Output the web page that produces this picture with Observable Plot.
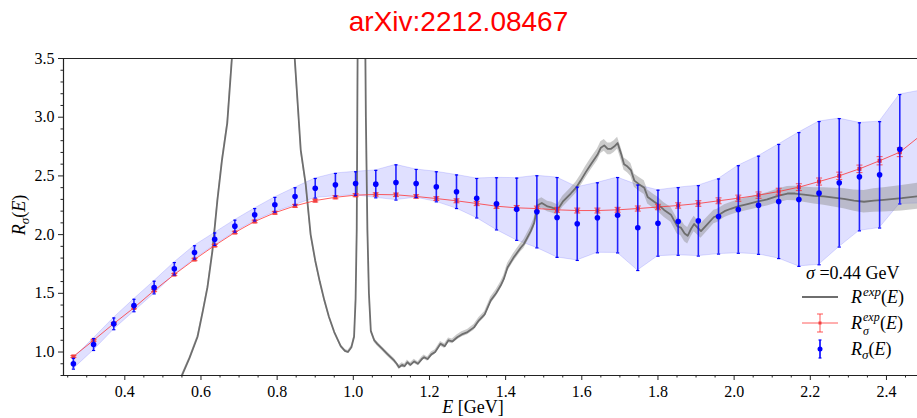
<!DOCTYPE html>
<html>
<head>
<meta charset="utf-8">
<script src="https://cdn.jsdelivr.net/npm/d3@7"></script>
<script src="https://cdn.jsdelivr.net/npm/@observablehq/plot@0.6"></script>
<style>
  html, body { margin: 0; padding: 0; background: #fff; }
  body { width: 917px; height: 418px; overflow: hidden; }
  #title {
    height: 44px; line-height: 44px; text-align: center;
    font-family: "Liberation Sans", Arial, sans-serif; font-size: 28px; color: #ff0000;
  }
  #chart svg { display: block; }
</style>
</head>
<body>
<div id="title">arXiv:2212.08467</div>
<div id="chart"></div>
<script>
// Energies of the smeared points (GeV)
const energies = [0.265,0.318,0.371,0.424,0.477,0.530,0.583,0.636,0.689,0.741,0.794,0.847,0.900,0.953,1.006,1.059,1.112,1.165,1.218,1.271,1.324,1.376,1.429,1.482,1.535,1.588,1.641,1.694,1.747,1.800,1.853,1.906,1.959,2.011,2.064,2.117,2.170,2.223,2.276,2.329,2.382,2.435,2.488];

// R_sigma(E) from the lattice (blue) with its uncertainty
const rSigma    = [0.900,1.064,1.240,1.396,1.549,1.709,1.848,1.961,2.072,2.169,2.254,2.325,2.395,2.424,2.435,2.430,2.444,2.435,2.407,2.365,2.310,2.262,2.216,2.194,2.146,2.092,2.143,2.165,2.058,2.097,2.112,2.117,2.154,2.214,2.250,2.282,2.299,2.353,2.441,2.492,2.509,2.727,2.745];
const rSigmaErr = [0.046,0.051,0.050,0.053,0.054,0.053,0.057,0.053,0.051,0.053,0.063,0.074,0.083,0.097,0.100,0.117,0.150,0.120,0.128,0.143,0.168,0.222,0.265,0.307,0.340,0.312,0.298,0.321,0.364,0.281,0.288,0.300,0.320,0.373,0.418,0.486,0.570,0.610,0.547,0.460,0.453,0.466,0.480];

// R_sigma^exp(E): experimental R smeared with the same kernel (red)
const rSigmaExp    = [0.962,1.100,1.242,1.377,1.524,1.660,1.788,1.907,2.018,2.112,2.186,2.245,2.290,2.318,2.336,2.342,2.339,2.325,2.307,2.288,2.265,2.242,2.228,2.222,2.211,2.205,2.205,2.211,2.222,2.235,2.248,2.265,2.288,2.310,2.336,2.367,2.404,2.452,2.501,2.560,2.629,2.702,2.840];
const rSigmaExpErr = [0.008,0.008,0.008,0.009,0.009,0.009,0.010,0.010,0.010,0.011,0.011,0.012,0.012,0.013,0.013,0.014,0.015,0.015,0.016,0.017,0.018,0.019,0.020,0.021,0.021,0.021,0.021,0.021,0.022,0.023,0.023,0.024,0.025,0.026,0.027,0.028,0.029,0.030,0.031,0.032,0.035,0.038,0.040];

// R^exp(E): unsmeared experimental ratio, rows of [E, R, dR]
const rExp = [
  [0.500,0.55,0.010],[0.530,0.68,0.010],[0.550,0.80,0.012],[0.570,0.95,0.012],[0.591,1.13,0.014],
  [0.605,1.35,0.015],[0.617,1.55,0.016],[0.630,1.86,0.018],[0.643,2.29,0.020],[0.655,2.63,0.022],
  [0.669,2.95,0.025],[0.690,3.90,0.040],[0.720,5.50,0.060],[0.750,8.00,0.080],[0.770,9.60,0.100],
  [0.782,20.0,0.200],[0.790,8.50,0.090],[0.810,6.30,0.070],[0.830,4.30,0.050],[0.862,2.72,0.030],
  [0.875,2.43,0.025],[0.888,2.00,0.022],[0.900,1.78,0.020],[0.912,1.60,0.018],[0.924,1.44,0.016],
  [0.936,1.30,0.015],[0.950,1.17,0.014],[0.967,1.05,0.013],[0.978,1.01,0.013],[0.986,1.00,0.013],
  [0.995,1.04,0.014],[1.002,1.13,0.015],[1.006,1.45,0.020],[1.009,2.04,0.030],[1.012,4.00,0.060],
  [1.019,40.0,0.500],[1.028,5.00,0.070],[1.033,3.00,0.040],[1.037,2.04,0.030],[1.041,1.50,0.020],
  [1.046,1.18,0.018],[1.055,1.10,0.018],[1.063,1.07,0.018],[1.075,1.03,0.018],[1.089,0.985,0.018],
  [1.100,0.95,0.018],[1.107,0.928,0.018],[1.114,0.90,0.018],[1.120,0.87,0.018],[1.128,0.89,0.018],
  [1.135,0.88,0.018],[1.142,0.913,0.018],[1.150,0.89,0.018],[1.160,0.92,0.018],[1.170,0.90,0.018],
  [1.180,0.94,0.018],[1.186,0.956,0.018],[1.195,0.94,0.018],[1.205,0.98,0.020],[1.215,1.00,0.020],
  [1.229,1.07,0.020],[1.240,1.05,0.020],[1.250,1.10,0.020],[1.260,1.09,0.020],[1.273,1.126,0.022],
  [1.285,1.15,0.022],[1.300,1.17,0.022],[1.317,1.21,0.024],[1.330,1.27,0.025],[1.345,1.32,0.026],
  [1.361,1.44,0.028],[1.375,1.50,0.030],[1.387,1.566,0.030],[1.395,1.62,0.032],[1.405,1.72,0.034],
  [1.420,1.80,0.035],[1.440,1.89,0.036],[1.448,1.92,0.038],[1.466,2.03,0.040],[1.475,2.10,0.042],
  [1.484,2.25,0.045],[1.495,2.27,0.045],[1.510,2.24,0.045],[1.522,2.23,0.045],[1.536,2.21,0.045],
  [1.550,2.28,0.046],[1.571,2.35,0.047],[1.585,2.40,0.048],[1.597,2.46,0.048],[1.610,2.53,0.050],
  [1.624,2.60,0.050],[1.641,2.68,0.050],[1.650,2.74,0.050],[1.659,2.76,0.050],[1.668,2.73,0.050],
  [1.676,2.73,0.050],[1.685,2.75,0.050],[1.694,2.78,0.050],[1.703,2.69,0.052],[1.711,2.60,0.052],
  [1.720,2.58,0.054],[1.729,2.55,0.055],[1.738,2.46,0.056],[1.750,2.43,0.058],[1.764,2.40,0.058],
  [1.773,2.32,0.060],[1.790,2.28,0.060],[1.799,2.26,0.060],[1.816,2.21,0.062],[1.834,2.17,0.064],
  [1.851,2.07,0.066],[1.860,2.06,0.068],[1.870,2.01,0.070],[1.878,1.99,0.070],[1.887,2.05,0.068],
  [1.895,2.09,0.066],[1.904,2.06,0.064],[1.913,2.03,0.062],[1.930,2.09,0.060],[1.947,2.15,0.058],
  [1.956,2.16,0.056],[1.975,2.20,0.055],[1.991,2.22,0.054],[2.010,2.24,0.054],[2.035,2.26,0.054],
  [2.060,2.28,0.055],[2.087,2.30,0.056],[2.115,2.33,0.058],[2.140,2.35,0.060],[2.160,2.35,0.062],
  [2.183,2.34,0.065],[2.210,2.33,0.070],[2.236,2.325,0.075],[2.262,2.315,0.080],[2.288,2.305,0.085],
  [2.315,2.29,0.090],[2.341,2.28,0.095],[2.367,2.29,0.100],[2.393,2.296,0.104],[2.440,2.31,0.108],
  [2.490,2.33,0.112]
];

// Axis ticks
const xTicks = [0.4,0.6,0.8,1.0,1.2,1.4,1.6,1.8,2.0,2.2,2.4];
const yTicks = [1.0,1.5,2.0,2.5,3.0,3.5];
const xMinor = d3.range(5, 50).map(i => i * 0.05).filter(v => !xTicks.some(t => Math.abs(t - v) < 1e-6));
const yMinor = d3.range(8, 36).map(i => i / 10).filter(v => !yTicks.some(t => Math.abs(t - v) < 1e-6));

const blue = energies.map((E, i) => ({E, r: rSigma[i], e: rSigmaErr[i]}));
const red = energies.map((E, i) => ({E, r: rSigmaExp[i], e: rSigmaExpErr[i]}));
const grey = rExp.map(([E, r, e]) => ({E, r, e}));

// horizontal cap for error bars, half-width = r
const cap = {draw(ctx, size) { const w = Math.sqrt(size / Math.PI); ctx.moveTo(-w, 0); ctx.lineTo(w, 0); }};

const BLUE = "#0000ff", RED = "#ff2a2a", GREY = "#6e6e6e";
const xDomain = [0.239, 2.4815], yDomain = [0.8, 3.5];

const chart = Plot.plot({
  width: 917, height: 374,
  marginLeft: 63, marginRight: 0, marginTop: 14, marginBottom: 43,
  x: {domain: xDomain},
  y: {domain: yDomain},
  style: {fontFamily: "'Liberation Serif', serif", fontSize: "16px", color: "#000", background: "#fff"},
  marks: [
    Plot.areaY(blue, {x: "E", y1: d => d.r - d.e, y2: d => d.r + d.e, fill: BLUE, fillOpacity: 0.12, stroke: BLUE, strokeOpacity: 0.13, clip: true}),
    Plot.areaY(grey, {x: "E", y1: d => d.r - d.e, y2: d => d.r + d.e, fill: "#8c8c8c", fillOpacity: 0.45, clip: true}),
    Plot.line(grey, {x: "E", y: "r", stroke: GREY, strokeWidth: 1.8, clip: true}),
    Plot.line(red, {x: "E", y: "r", stroke: RED, strokeOpacity: 0.75, strokeWidth: 1, clip: true}),
    Plot.ruleX(red, {x: "E", y1: d => d.r - d.e, y2: d => d.r + d.e, stroke: RED, strokeOpacity: 0.8, strokeWidth: 1, clip: true}),
    Plot.dot(red, {x: "E", y: d => d.r + d.e, symbol: cap, r: 3, stroke: RED, strokeOpacity: 0.8, strokeWidth: 1, clip: true}),
    Plot.dot(red, {x: "E", y: d => d.r - d.e, symbol: cap, r: 3, stroke: RED, strokeOpacity: 0.8, strokeWidth: 1, clip: true}),
    Plot.dot(red, {x: "E", y: "r", symbol: "square", r: 2.3, fill: "#f04040", stroke: null, clip: true}),
    Plot.ruleX(blue, {x: "E", y1: d => d.r - d.e, y2: d => d.r + d.e, stroke: BLUE, strokeWidth: 1.6, strokeOpacity: 0.85, clip: true}),
    Plot.dot(blue, {x: "E", y: d => d.r + d.e, symbol: cap, r: 1.6, stroke: BLUE, strokeWidth: 1.2, clip: true}),
    Plot.dot(blue, {x: "E", y: d => d.r - d.e, symbol: cap, r: 1.6, stroke: BLUE, strokeWidth: 1.2, clip: true}),
    Plot.dot(blue, {x: "E", y: "r", r: 2.8, fill: BLUE, stroke: null, clip: true}),
    // spines: top, left, bottom
    Plot.ruleY([yDomain[1]], {stroke: "#222", strokeWidth: 1.2}),
    Plot.ruleY([yDomain[0]], {stroke: "#222", strokeWidth: 1.2}),
    Plot.ruleX([xDomain[0]], {stroke: "#222", strokeWidth: 1.2}),
    Plot.axisX(xTicks, {tickSize: 5, tickPadding: 5, tickFormat: d => d.toFixed(1), label: null, stroke: "#222"}),
    Plot.axisX(xMinor, {tickSize: 2.5, tickFormat: () => "", label: null, stroke: "#222"}),
    Plot.axisY(yTicks, {tickSize: 5, tickPadding: 4, tickFormat: d => d.toFixed(1), label: null, stroke: "#222"}),
    Plot.axisY(yMinor, {tickSize: 2.5, tickFormat: () => "", label: null, stroke: "#222"})
  ]
});
document.getElementById("chart").appendChild(chart);

// math-style labels built from tspans
function mathText(g, x, y, parts) {
  const t = g.append("text").attr("x", x).attr("y", y);
  for (const p of parts) {
    const s = t.append("tspan").text(p.t);
    if (p.i) s.attr("font-style", "italic");
    if (p.fs) s.attr("font-size", p.fs);
    if (p.dx) s.attr("dx", p.dx);
    if (p.dy) s.attr("dy", p.dy);
  }
  return t;
}
const svg = d3.select(chart);
const txt = svg.append("g").attr("font-family", "'Liberation Serif', serif").attr("font-size", 18).attr("fill", "#000");

// axis titles
const yl = txt.append("g").attr("transform", "translate(25,171) rotate(-90)").attr("text-anchor", "middle");
mathText(yl, 0, 0, [{t: "R", i: 1}, {t: "σ", i: 1, fs: 13, dy: 4}, {t: "(", dy: -4}, {t: "E", i: 1}, {t: ")"}]);
const xl = txt.append("g").attr("text-anchor", "middle");
mathText(xl, 473, 369, [{t: "E", i: 1}, {t: " [GeV]"}]);

// legend
const lg = txt.append("g").attr("text-anchor", "start");
mathText(lg, 806, 235, [{t: "σ", i: 1}, {t: " =0.44 GeV"}]);
lg.append("line").attr("x1", 802).attr("x2", 838).attr("y1", 253).attr("y2", 253).attr("stroke", GREY).attr("stroke-width", 1.8);
mathText(lg, 851, 259, [{t: "R", i: 1}, {t: "exp", i: 1, fs: 13, dy: -7, dx: 1}, {t: "(", dy: 7}, {t: "E", i: 1}, {t: ")"}]);
const ry = 279;
lg.append("line").attr("x1", 802).attr("x2", 838).attr("y1", ry).attr("y2", ry).attr("stroke", RED).attr("stroke-opacity", 0.75);
lg.append("line").attr("x1", 820).attr("x2", 820).attr("y1", ry - 9).attr("y2", ry + 9).attr("stroke", RED).attr("stroke-opacity", 0.8);
lg.append("line").attr("x1", 817).attr("x2", 823).attr("y1", ry - 9).attr("y2", ry - 9).attr("stroke", RED).attr("stroke-opacity", 0.8);
lg.append("line").attr("x1", 817).attr("x2", 823).attr("y1", ry + 9).attr("y2", ry + 9).attr("stroke", RED).attr("stroke-opacity", 0.8);
lg.append("rect").attr("x", 818.5).attr("y", ry - 1.5).attr("width", 3).attr("height", 3).attr("fill", "#f04040");
// R with stacked sub- and superscript: separate text pieces
mathText(lg, 851, 285, [{t: "R", i: 1}]);
mathText(lg, 863, 277, [{t: "exp", i: 1, fs: 12}]);
mathText(lg, 863, 291, [{t: "σ", i: 1, fs: 12}]);
mathText(lg, 880, 285, [{t: "("}, {t: "E", i: 1}, {t: ")"}]);
const by = 305;
lg.append("line").attr("x1", 820).attr("x2", 820).attr("y1", by - 9).attr("y2", by + 9).attr("stroke", BLUE).attr("stroke-width", 1.6);
lg.append("line").attr("x1", 818.5).attr("x2", 821.5).attr("y1", by - 9).attr("y2", by - 9).attr("stroke", BLUE).attr("stroke-width", 1.2);
lg.append("line").attr("x1", 818.5).attr("x2", 821.5).attr("y1", by + 9).attr("y2", by + 9).attr("stroke", BLUE).attr("stroke-width", 1.2);
lg.append("circle").attr("cx", 820).attr("cy", by).attr("r", 2.5).attr("fill", BLUE);
mathText(lg, 851, 311, [{t: "R", i: 1}, {t: "σ", i: 1, fs: 13, dy: 4}, {t: "(", dy: -4}, {t: "E", i: 1}, {t: ")"}]);
</script>
</body>
</html>
